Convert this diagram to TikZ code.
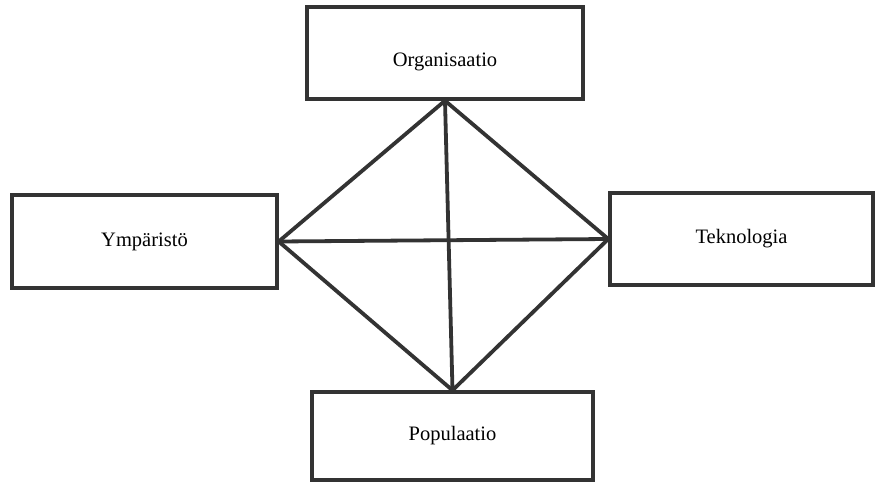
\documentclass[tikz,border=0pt]{standalone}
\usepackage{fontspec}
\setmainfont{Liberation Serif}
\usetikzlibrary{positioning}
\definecolor{inkgray}{HTML}{333333}
\tikzset{
  conceptbox/.style={
    draw=inkgray,
    line width=3.4pt,
    fill=white,
    inner sep=0pt,
    align=center,
    font=\fontsize{20.5}{24}\selectfont
  },
  linkline/.style={draw=inkgray,line width=3.8pt}
}

\begin{document}
\begin{tikzpicture}[x=1pt,y=-1pt]
\useasboundingbox (0,0) rectangle (879,484);
\node[conceptbox,minimum width=276pt,minimum height=92pt,text height=32pt] (org) at (445,53) {Organisaatio};
\node[conceptbox,minimum width=265pt,minimum height=93pt] (ymp) at (144.5,241.5) {Ympäristö};
\node[conceptbox,minimum width=263pt,minimum height=92pt] (tek) at (741.5,239) {Teknologia};
\node[conceptbox,minimum width=281pt,minimum height=88pt] (pop) at (452.5,436) {Populaatio};
\draw[linkline] (org.south) -- (ymp.east);
\draw[linkline] (org.south) -- (tek.west);
\draw[linkline] (ymp.east) -- (pop.north);
\draw[linkline] (tek.west) -- (pop.north);
\draw[linkline] (ymp.east) -- (tek.west);
\draw[linkline] (org.south) -- (pop.north);
\end{tikzpicture}
\end{document}
